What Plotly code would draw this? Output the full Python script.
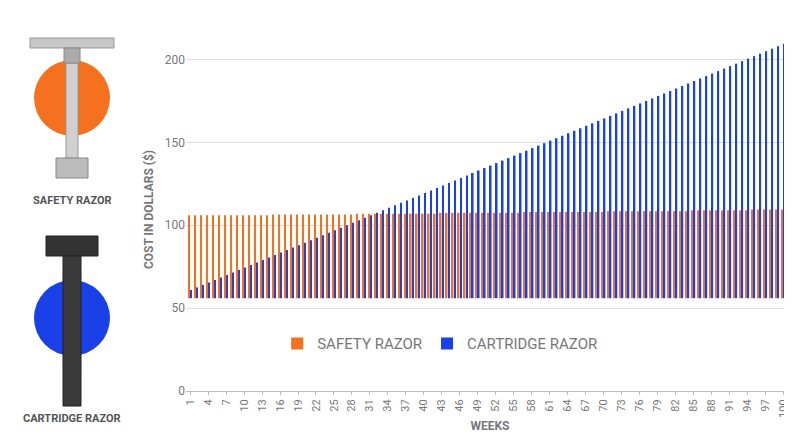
import plotly.graph_objects as go

weeks = list(range(1, 102))
safety = [106]*14 + [106.5]*14 + [107]*14 + [107.5]*14 + [108]*14 + [108.5]*14 + [109]*10 + [109.5]*7
cartridge = [61 + 1.5*i for i in range(101)]
tick_labels = [str(w) for w in range(1, 102, 3)]
base_value = 56

fig = go.Figure()
fig.add_bar(x=weeks, y=[v - base_value for v in safety], base=base_value, name="SAFETY RAZOR",
            marker_color="#f5701f", marker_line_width=0)
fig.add_bar(x=weeks, y=[v - base_value for v in cartridge], base=base_value, name="CARTRIDGE RAZOR",
            marker_color="#1a40e8", marker_line_width=0)

fig.update_layout(
    width=792, height=446, barmode="group", bargap=0.3, bargroupgap=0.25,
    margin=dict(l=178, r=6, t=20, b=63),
    paper_bgcolor="white", plot_bgcolor="white",
    font=dict(family="Roboto", color="#777"),
    legend=dict(orientation="h", x=0.15, y=0.13, xanchor="left", yanchor="middle",
                font=dict(size=15, color="#777"), bgcolor="rgba(0,0,0,0)"),
    xaxis=dict(tickmode="array", tickvals=list(range(1, 102, 3)), ticktext=tick_labels,
               tickangle=-90, tickfont=dict(size=11, color="#777"), range=[0.3, 101.8],
               title=dict(text="<b>WEEKS</b>", font=dict(size=12, color="#777"), standoff=4),
               showline=True, linecolor="#bbb", ticks="outside", ticklen=3, tickcolor="#bbb"),
    yaxis=dict(range=[0, 219], tickvals=[0, 50, 100, 150, 200], gridcolor="#ddd",
               tickfont=dict(size=12, color="#777"), zeroline=False,
               title=dict(text="<b>COST IN DOLLARS ($)</b>", font=dict(size=12, color="#777"), standoff=8)),
)

W, H, L, B0 = 608, 363, 178, 383
def px(x0, y0, x1, y1):
    return dict(xref="paper", yref="paper", x0=(x0-L)/W, x1=(x1-L)/W, y0=(B0-y1)/H, y1=(B0-y0)/H)

shapes = [
    dict(type="circle", fillcolor="#f5701f", line_width=0, **px(26, 52, 102, 128)),
    dict(type="rect", fillcolor="#d0d0d0", line=dict(color="#999", width=1), **px(58, 55, 70, 150)),
    dict(type="rect", fillcolor="#bbb", line=dict(color="#888", width=1), **px(48, 150, 80, 170)),
    dict(type="rect", fillcolor="#c8c8c8", line=dict(color="#999", width=1), **px(22, 30, 106, 40)),
    dict(type="rect", fillcolor="#aaa", line=dict(color="#888", width=1), **px(56, 40, 72, 55)),
    dict(type="circle", fillcolor="#1a40e8", line_width=0, **px(26, 272, 102, 348)),
    dict(type="rect", fillcolor="#333", line=dict(color="#222", width=1), **px(38, 228, 90, 248)),
    dict(type="rect", fillcolor="#3a3a3a", line=dict(color="#222", width=1), **px(55, 248, 73, 398)),
]
fig.update_layout(shapes=shapes)
fig.add_annotation(text="<b>SAFETY RAZOR</b>", xref="paper", yref="paper", x=(64-L)/W, y=(B0-192)/H,
                   xanchor="center", yanchor="middle", showarrow=False, font=dict(size=11, color="#555"))
fig.add_annotation(text="<b>CARTRIDGE RAZOR</b>", xref="paper", yref="paper", x=(64-L)/W, y=(B0-410)/H,
                   xanchor="center", yanchor="middle", showarrow=False, font=dict(size=11, color="#555"))

fig.write_html("out.html")
